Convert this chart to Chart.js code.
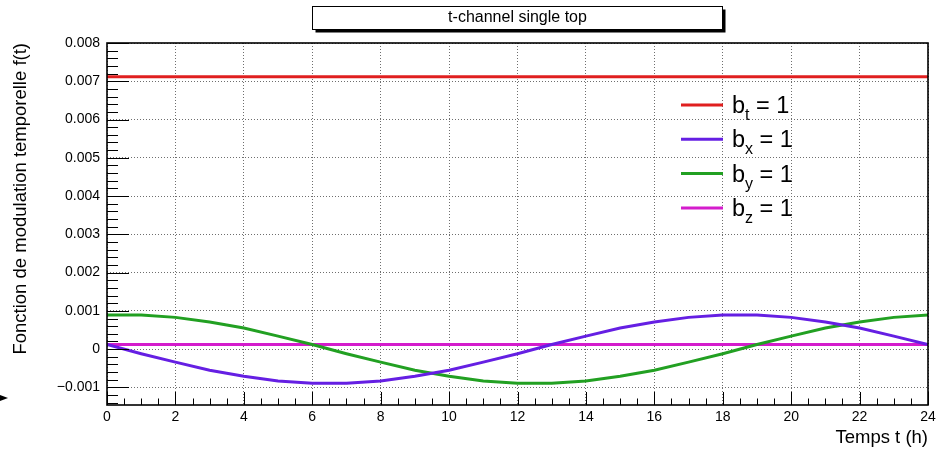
<!DOCTYPE html>
<html><head><meta charset="utf-8">
<script src="https://cdn.jsdelivr.net/npm/chart.js@4/dist/chart.umd.min.js"></script>
<style>html,body{margin:0;padding:0;background:#fff;overflow:hidden;}#wrap{width:941px;height:455px;position:relative;}canvas{display:block;}</style>
</head><body><div id="wrap"><canvas id="c" width="941" height="455" style="width:941px;height:455px"></canvas></div>
<script>
// ---- data ----
const hours = [0,1,2,3,4,5,6,7,8,9,10,11,12,13,14,15,16,17,18,19,20,21,22,23,24];
const btValues = [0.00712,0.00712,0.00712,0.00712,0.00712,0.00712,0.00712,0.00712,0.00712,0.00712,0.00712,0.00712,0.00712,0.00712,0.00712,0.00712,0.00712,0.00712,0.00712,0.00712,0.00712,0.00712,0.00712,0.00712,0.00712];
const bxValues = [0.00012,-0.00012,-0.00034,-0.00055,-0.00071,-0.00083,-0.00089,-0.00089,-0.00083,-0.00071,-0.00055,-0.00034,-0.00012,0.00012,0.00034,0.00055,0.00071,0.00083,0.00089,0.00089,0.00083,0.00071,0.00055,0.00034,0.00012];
const byValues = [0.00089,0.00089,0.00083,0.00071,0.00055,0.00034,0.00012,-0.00012,-0.00034,-0.00055,-0.00071,-0.00083,-0.00089,-0.00089,-0.00083,-0.00071,-0.00055,-0.00034,-0.00012,0.00012,0.00034,0.00055,0.00071,0.00083,0.00089];
const bzValues = [0.00012,0.00012,0.00012,0.00012,0.00012,0.00012,0.00012,0.00012,0.00012,0.00012,0.00012,0.00012,0.00012,0.00012,0.00012,0.00012,0.00012,0.00012,0.00012,0.00012,0.00012,0.00012,0.00012,0.00012,0.00012];
const seriesLabels = ["b_t = 1","b_x = 1","b_y = 1","b_z = 1"];
const seriesColors = ["#e01f1f","#651fe3","#22a022","#d41ccc"];
const xTickValues = [0,2,4,6,8,10,12,14,16,18,20,22,24];
const yTickValues = [-0.001,0,0.001,0.002,0.003,0.004,0.005,0.006,0.007,0.008];
const yTickLabels = ["\u22120.001","0","0.001","0.002","0.003","0.004","0.005","0.006","0.007","0.008"];
const chartTitle = "t-channel single top";
const xTitle = "Temps t (h)";
const yTitle = "Fonction de modulation temporelle f(t)";

const FONT = "'Liberation Sans', Arial, Helvetica, sans-serif";
Chart.defaults.font.family = FONT;
Chart.defaults.color = "#000";

function pts(arr){ return hours.map((h,i)=>({x:h,y:arr[i]})); }
const allSeries = [btValues,bxValues,byValues,bzValues];

const rootPlugin = {
  id: 'rootStyle',
  beforeDraw(chart){
    const ctx = chart.ctx, ca = chart.chartArea;
    ctx.save();
    ctx.fillStyle = '#fff'; ctx.fillRect(0,0,chart.width,chart.height);
    const w = ca.right - ca.left;
    const bx = Math.round(ca.left + 0.25*w) + 0.5, bw = Math.round(0.5*w) - 1, by = 6.5, bh = 23;
    ctx.fillStyle = '#000';
    ctx.fillRect(bx+3, by+3, bw, bh);
    ctx.fillStyle = '#fff';
    ctx.fillRect(bx, by, bw, bh);
    ctx.strokeStyle = '#000'; ctx.lineWidth = 1;
    ctx.strokeRect(bx, by, bw, bh);
    ctx.restore();
  },
  afterDraw(chart){
    const ctx = chart.ctx, ca = chart.chartArea;
    const xs = chart.scales.x, ys = chart.scales.y;
    ctx.save();
    ctx.strokeStyle = '#000'; ctx.lineWidth = 1;
    ctx.beginPath();
    for (let k = 0; k <= 48; k++) {
      const px = Math.round(xs.getPixelForValue(k*0.5)) + 0.5;
      const len = (k % 4 === 0) ? 13 : 6.5;
      ctx.moveTo(px, ca.bottom); ctx.lineTo(px, ca.bottom - len);
    }
    for (let k = -7; k <= 40; k++) {
      const py = Math.round(ys.getPixelForValue(k*0.0002)) + 0.5;
      if (py < ca.top - 1 || py > ca.bottom + 1) continue;
      const len = (k % 5 === 0) ? 22 : 11;
      ctx.moveTo(ca.left, py); ctx.lineTo(ca.left + len, py);
    }
    ctx.stroke();
    ctx.lineWidth = 1.6;
    ctx.strokeRect(ca.left, ca.top, ca.right - ca.left, ca.bottom - ca.top);
    chart.data.datasets.forEach((ds, i) => {
      const y = 105 + i*34.3;
      ctx.strokeStyle = ds.borderColor; ctx.lineWidth = 3;
      ctx.beginPath(); ctx.moveTo(681, y); ctx.lineTo(723, y); ctx.stroke();
      const m = ds.label.match(/^(.*?)_(\S)(.*)$/);
      const base = m ? m[1] : ds.label, sub = m ? m[2] : '', rest = m ? m[3] : '';
      ctx.fillStyle = '#000'; ctx.textBaseline = 'alphabetic'; ctx.textAlign = 'left';
      ctx.font = '23.5px ' + FONT;
      let x = 732;
      ctx.fillText(base, x, y + 8); x += ctx.measureText(base).width;
      ctx.font = '16px ' + FONT;
      ctx.fillText(sub, x, y + 15); x += ctx.measureText(sub).width;
      ctx.font = '23.5px ' + FONT;
      ctx.fillText(rest, x, y + 8);
    });
    ctx.fillStyle = '#000';
    ctx.beginPath(); ctx.moveTo(0, 395); ctx.lineTo(8, 398); ctx.lineTo(0, 401); ctx.closePath(); ctx.fill();
    ctx.restore();
  }
};

new Chart(document.getElementById('c'), {
  type: 'line',
  data: {
    datasets: allSeries.map((arr, i) => ({
      label: seriesLabels[i], data: pts(arr), borderColor: seriesColors[i], backgroundColor: seriesColors[i],
      borderWidth: 3, pointRadius: 0, tension: 0, fill: false
    }))
  },
  options: {
    responsive: false, maintainAspectRatio: false, animation: false, devicePixelRatio: 1,
    layout: { padding: { left: 0, right: 13, top: 0, bottom: 0 } },
    plugins: {
      legend: { display: false },
      tooltip: { enabled: false },
      title: { display: true, text: chartTitle, fullSize: false, align: 'center', color: '#000',
               font: { size: 16, weight: 'normal', family: FONT }, padding: { top: 8, bottom: 15.8 } }
    },
    scales: {
      x: {
        type: 'linear', min: 0, max: 24,
        afterBuildTicks: s => { s.ticks = xTickValues.map(v => ({ value: v })); },
        afterFit: s => { s.height = 50; },
        ticks: { font: { size: 14 }, padding: 4, maxRotation: 0, autoSkip: false, color: '#000',
                 callback: v => String(v) },
        grid: { color: '#6e6e6e', lineWidth: 1, drawTicks: false },
        border: { display: false, dash: [1, 2] },
        title: { display: true, text: xTitle, align: 'end', font: { size: 18.5 }, color: '#000', padding: { top: 0, bottom: 6 } }
      },
      y: {
        type: 'linear', min: -0.00146, max: 0.008,
        afterBuildTicks: s => { s.ticks = yTickValues.map(v => ({ value: v })); },
        afterFit: s => { s.width = 107; },
        ticks: { font: { size: 14 }, padding: 7, autoSkip: false, color: '#000',
                 callback: (v) => { const i = yTickValues.findIndex(t => Math.abs(t - v) < 1e-9); return i >= 0 ? yTickLabels[i] : ''; } },
        grid: { color: '#6e6e6e', lineWidth: 1, drawTicks: false },
        border: { display: false, dash: [1, 2] },
        title: { display: true, text: yTitle, align: 'end', font: { size: 18.5 }, color: '#000', padding: { top: 10, bottom: 0 } }
      }
    }
  },
  plugins: [rootPlugin]
});
</script></body></html>
